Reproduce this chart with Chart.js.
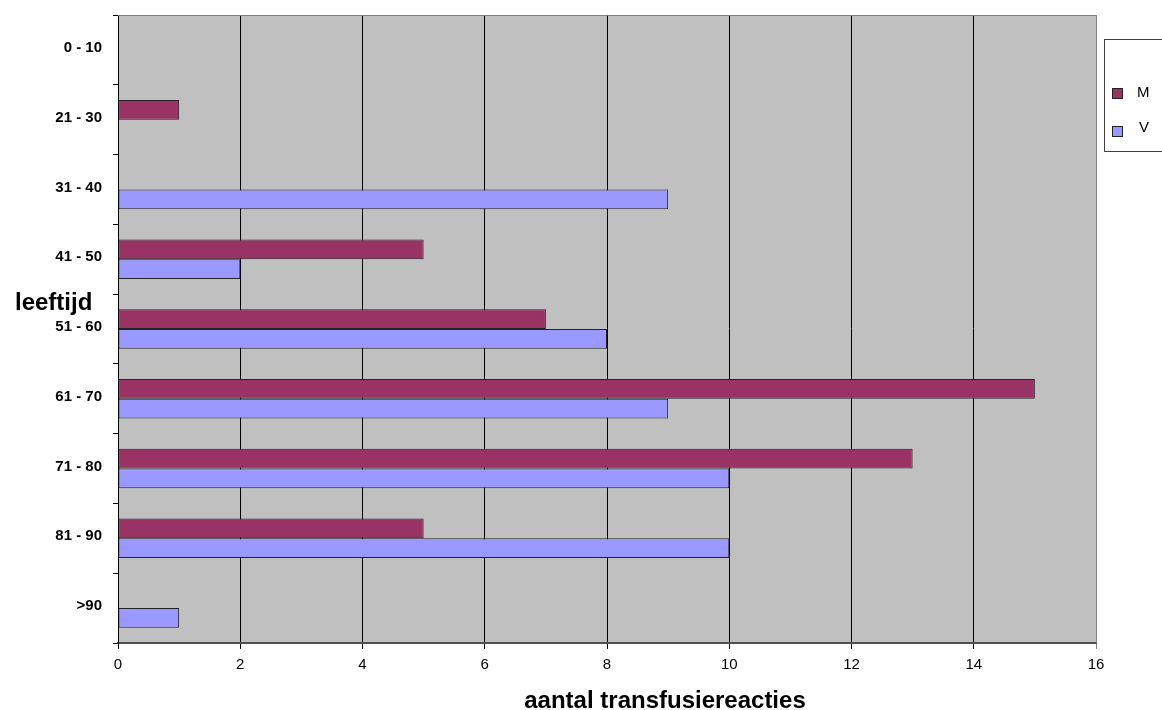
<!DOCTYPE html>
<html>
<head>
<meta charset="utf-8">
<script src="https://cdn.jsdelivr.net/npm/chart.js@4/dist/chart.umd.min.js"></script>
<style>
  html, body { margin: 0; padding: 0; background: #fff; }
  #wrap { width: 1162px; height: 710px; position: relative; }
</style>
</head>
<body>
<div id="wrap"><canvas id="c" width="1162" height="710"></canvas></div>
<script>
// Age groups and number of transfusion reactions per sex
const ageGroups = ['0 - 10', '21 - 30', '31 - 40', '41 - 50', '51 - 60', '61 - 70', '71 - 80', '81 - 90', '>90'];
const menCounts = [0, 1, 0, 5, 7, 15, 13, 5, 0];
const womenCounts = [0, 0, 9, 2, 8, 9, 10, 10, 1];
const seriesNames = ['M', 'V'];
const xTicks = [0, 2, 4, 6, 8, 10, 12, 14, 16];

const FONT = '"Liberation Sans", Arial, sans-serif';

// Grey plot background plus border lines on top and right
const plotArea = {
  id: 'plotArea',
  beforeDraw(chart) {
    const { ctx, chartArea: a } = chart;
    ctx.save();
    ctx.fillStyle = '#C0C0C0';
    ctx.fillRect(a.left, a.top, a.right - a.left, a.bottom - a.top);
    ctx.restore();
  },
  afterDraw(chart) {
    const { ctx, chartArea: a } = chart;
    ctx.save();
    ctx.strokeStyle = '#808080';
    ctx.lineWidth = 1;
    ctx.beginPath();
    ctx.moveTo(a.left, a.top + 0.5);
    ctx.lineTo(a.right + 0.5, a.top + 0.5);
    ctx.lineTo(a.right + 0.5, a.bottom);
    ctx.stroke();
    ctx.restore();
  }
};

// Axis titles and the boxed legend
const annotations = {
  id: 'annotations',
  afterDraw(chart) {
    const { ctx } = chart;
    ctx.save();
    ctx.fillStyle = '#000';
    ctx.font = 'bold 24px ' + FONT;
    ctx.textBaseline = 'middle';
    ctx.textAlign = 'left';
    ctx.fillText('leeftijd', 15, 303);
    ctx.textAlign = 'center';
    ctx.fillText('aantal transfusiereacties', 665, 701);

    // legend box
    ctx.fillStyle = '#fff';
    ctx.fillRect(1104, 39, 80, 112);
    ctx.strokeStyle = '#404040';
    ctx.lineWidth = 1;
    ctx.strokeRect(1104.5, 39.5, 80, 112);
    const rows = [93, 131];
    chart.data.datasets.forEach((ds, i) => {
      const y = rows[i];
      ctx.fillStyle = ds.backgroundColor;
      ctx.fillRect(1112, y - 5, 11, 11);
      ctx.strokeStyle = '#222';
      ctx.strokeRect(1112.5, y - 4.5, 10, 10);
      ctx.fillStyle = '#000';
      ctx.font = '15px ' + FONT;
      ctx.textAlign = 'left';
      ctx.textBaseline = 'middle';
      ctx.fillText(ds.label, i === 0 ? 1137 : 1139, y - (i === 0 ? 0 : 3));
    });
    ctx.restore();
  }
};

new Chart(document.getElementById('c'), {
  type: 'bar',
  data: {
    labels: ageGroups,
    datasets: [
      { label: seriesNames[0], data: menCounts, backgroundColor: '#993366', borderColor: '#222', borderWidth: 1, borderSkipped: false },
      { label: seriesNames[1], data: womenCounts, backgroundColor: '#9999FF', borderColor: '#222', borderWidth: 1, borderSkipped: false }
    ]
  },
  options: {
    indexAxis: 'y',
    responsive: false,
    animation: false,
    devicePixelRatio: 1,
    layout: { padding: { left: 0, top: 15, right: 66, bottom: 0 } },
    plugins: { legend: { display: false }, tooltip: { enabled: false }, title: { display: false } },
    datasets: { bar: { categoryPercentage: 0.565, barPercentage: 1 } },
    scales: {
      x: {
        type: 'linear',
        min: xTicks[0],
        max: xTicks[xTicks.length - 1],
        afterBuildTicks(scale) { scale.ticks = xTicks.map(v => ({ value: v })); },
        afterFit(scale) { scale.height = 67; },
        grid: {
          color: (c) => c.index === xTicks.length - 1 ? '#808080' : '#000',
          lineWidth: 1,
          tickLength: 6,
          drawTicks: true
        },
        border: { color: '#505050', width: 2 },
        ticks: { color: '#000', font: { family: FONT, size: 15 }, padding: 7 }
      },
      y: {
        afterFit(scale) {
          scale.width = 118;
          scale.paddingTop = 0;
          scale.paddingBottom = 0;
        },
        grid: { drawOnChartArea: false, offset: true, color: '#000', tickLength: 5 },
        border: { color: '#000', width: 1 },
        ticks: { color: '#000', font: { family: FONT, size: 15, weight: 'bold' }, padding: 11, labelOffset: -2 }
      }
    }
  },
  plugins: [plotArea, annotations]
});
</script>
</body>
</html>
